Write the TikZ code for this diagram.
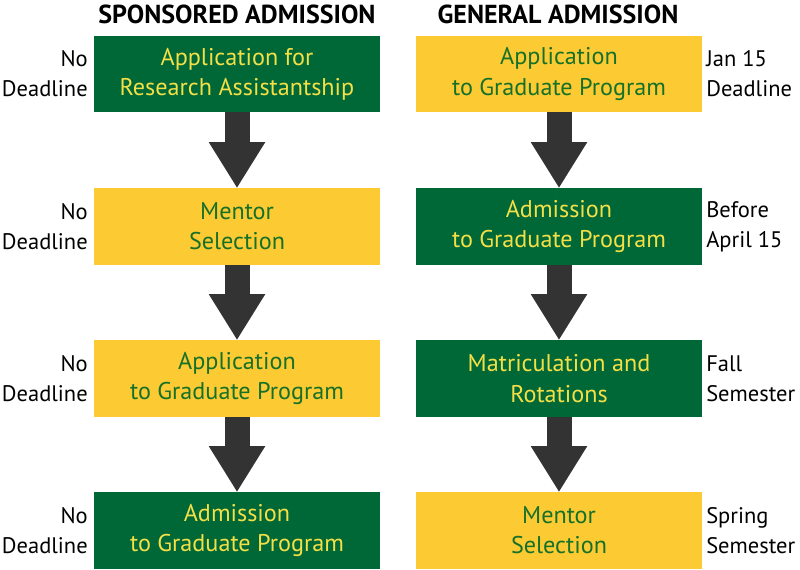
\documentclass[tikz,border=0pt]{standalone}
\usepackage{fontspec}
\setmainfont{PT Sans}
\usepackage{xcolor}
\usepackage{tikz}
\usetikzlibrary{arrows.meta}
\definecolor{boxgreen}{RGB}{0,104,55}
\definecolor{boxyellow}{RGB}{252,202,50}
\definecolor{txtyellow}{RGB}{244,224,70}
\definecolor{txtgreen}{RGB}{22,112,40}
\definecolor{arrowgray}{RGB}{51,51,51}
\tikzset{
  gbox/.style ={fill=boxgreen, text=txtyellow, minimum width=7.15cm, minimum height=1.9cm,
                inner sep=0pt, align=center, font=\fontsize{17.2}{21.5}\selectfont},
  ybox/.style ={fill=boxyellow, text=txtgreen, minimum width=7.15cm, minimum height=1.9cm,
                inner sep=0pt, align=center, font=\fontsize{17.2}{21.5}\selectfont},
  ttl/.style  ={font=\fontsize{18.5}{20}\selectfont\bfseries, inner sep=0pt},
  lbl/.style  ={font=\fontsize{16}{21.5}\selectfont, inner sep=0pt},
  fat/.style  ={draw=arrowgray, line width=0.625cm, line cap=butt,
                -{Triangle[width=1.325cm,length=1.15cm]}},
}
\begin{document}
\begin{tikzpicture}[x=0.025cm,y=-0.025cm]
  \useasboundingbox (0,0) rectangle (800,570);
  % column titles
  \node[ttl] (tsp) at (237,14) {SPONSORED ADMISSION};
  \node[ttl] (tgen) at (558,14) {GENERAL ADMISSION};
  % sponsored admission
  \node[gbox] (s1) at (237,74) {Application for\\Research Assistantship};
  \node[ybox] (s2) at (237,226.5) {Mentor\\Selection};
  \node[ybox] (s3) at (237,378.5) {Application\\to Graduate Program};
  \node[gbox] (s4) at (237,530.5) {Admission\\to Graduate Program};
  \node[lbl,anchor=east,align=right] (ls1) at (88,74) {No\\Deadline};
  \node[lbl,anchor=east,align=right] (ls2) at (88,226.5) {No\\Deadline};
  \node[lbl,anchor=east,align=right] (ls3) at (88,378.5) {No\\Deadline};
  \node[lbl,anchor=east,align=right] (ls4) at (88,530.5) {No\\Deadline};
  % general admission
  \node[ybox] (g1) at (559,74) {Application\\to Graduate Program};
  \node[gbox] (g2) at (559,226.5) {Admission\\to Graduate Program};
  \node[gbox] (g3) at (559,378.5) {Matriculation and\\Rotations};
  \node[ybox] (g4) at (559,530.5) {Mentor\\Selection};
  \node[lbl,anchor=west,align=left] (lg1) at (706,74) {Jan 15\\Deadline};
  \node[lbl,anchor=west,align=left] (lg2) at (706,226.5) {Before\\April 15};
  \node[lbl,anchor=west,align=left] (lg3) at (706,378.5) {Fall\\Semester};
  \node[lbl,anchor=west,align=left] (lg4) at (706,530.5) {Spring\\Semester};
  % arrows
  \draw[fat] (s1.south) -- (s2.north);
  \draw[fat] (s2.south) -- (s3.north);
  \draw[fat] (s3.south) -- (s4.north);
  \draw[fat] (g1.south) -- (g2.north);
  \draw[fat] (g2.south) -- (g3.north);
  \draw[fat] (g3.south) -- (g4.north);
\end{tikzpicture}
\end{document}
